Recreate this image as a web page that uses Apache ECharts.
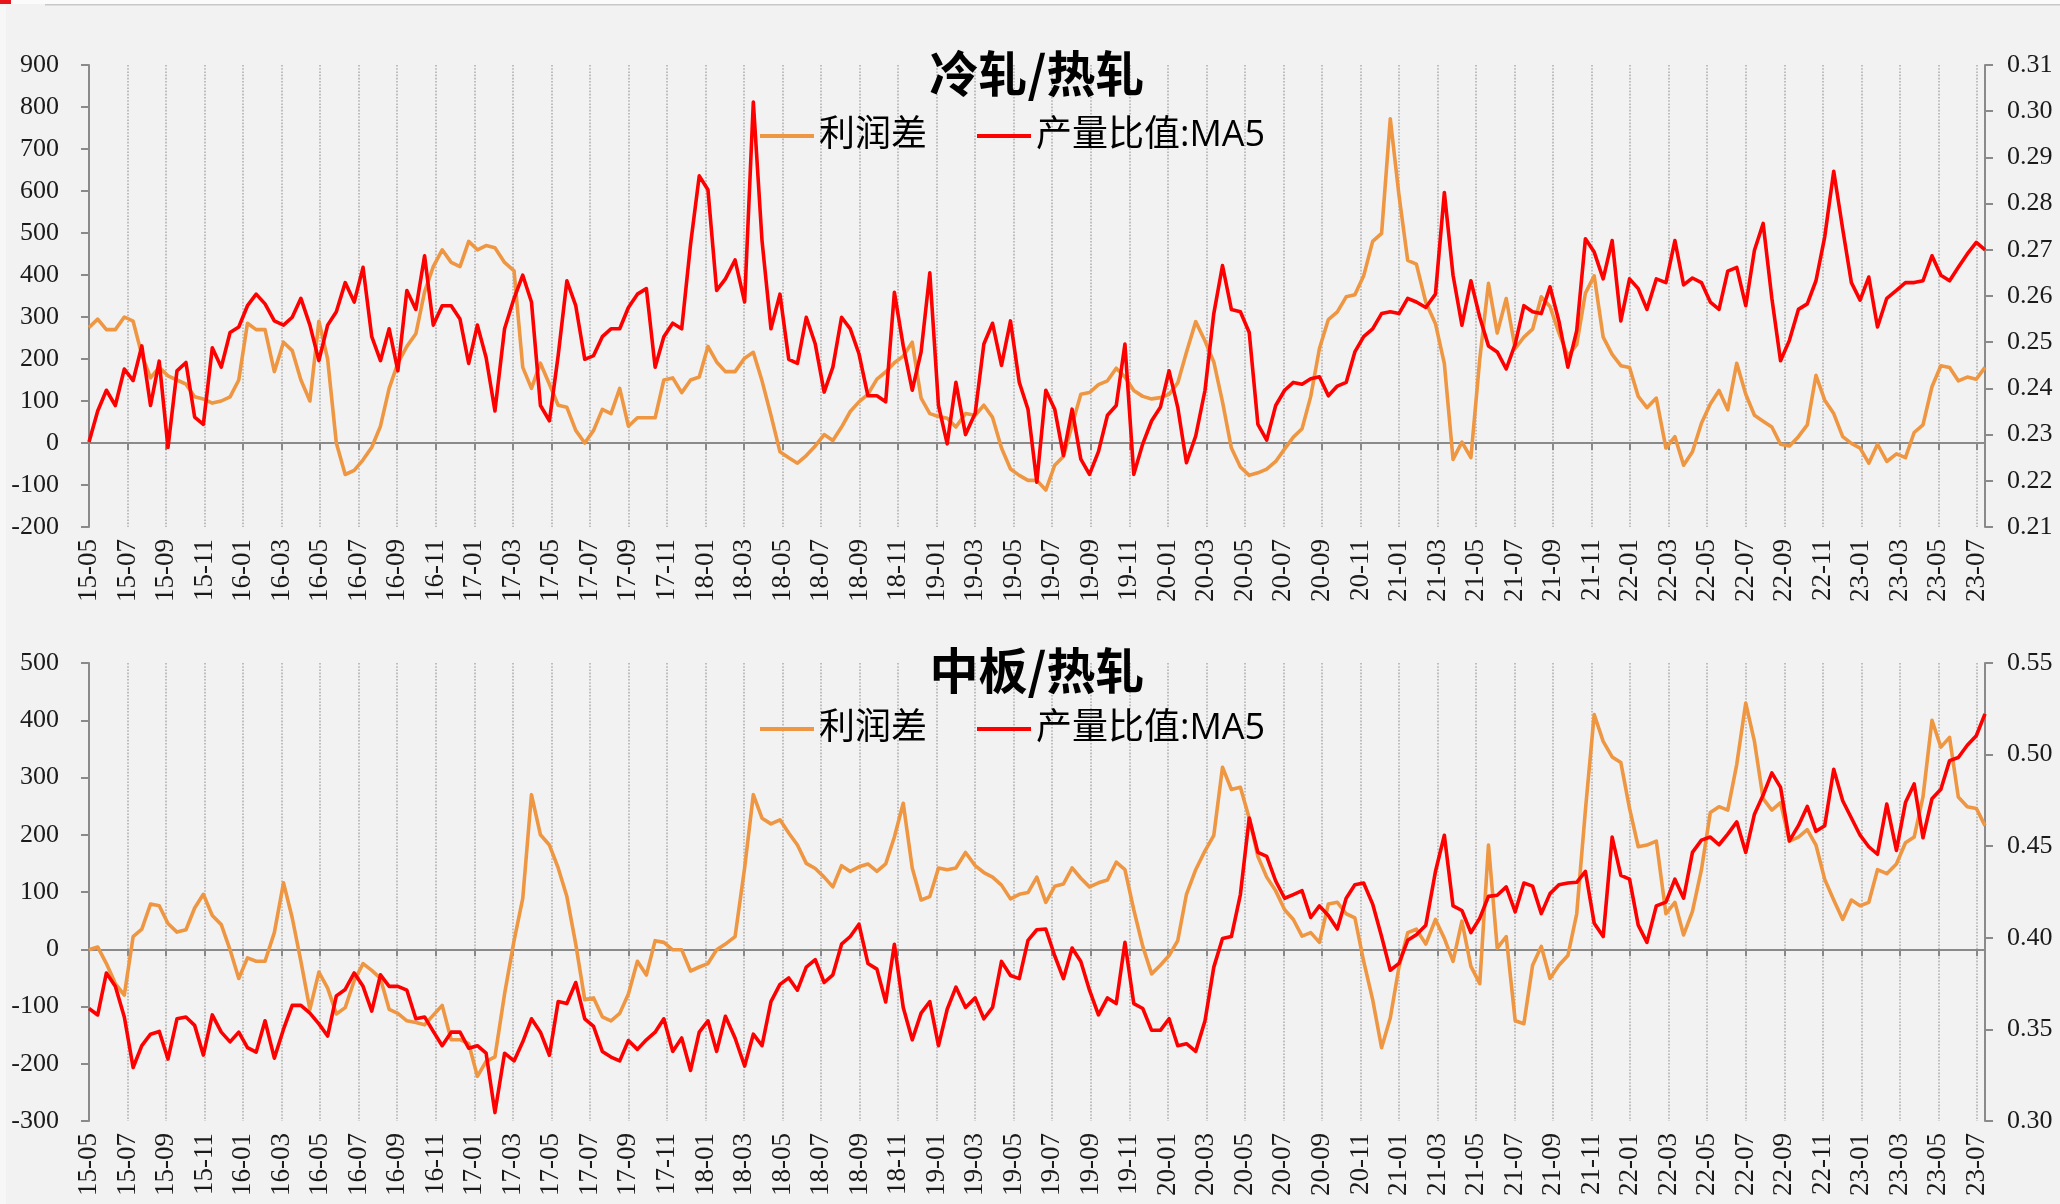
<!DOCTYPE html>
<html>
<head>
<meta charset="utf-8">
<script src="https://cdn.jsdelivr.net/npm/echarts@6/dist/echarts.min.js"></script>
<style>
  html, body { margin: 0; padding: 0; background: #f2f2f2; }
  #chart { width: 2060px; height: 1204px; }
</style>
</head>
<body>
<div id="chart"></div>
<script>
// One observation every 14 days, starting 2015-05-01.
const startUTC = Date.UTC(2015, 4, 1);
const stepDays = 14;

// x-axis tick labels, one every two months
const monthTicks = ['15-05','15-07','15-09','15-11','16-01','16-03','16-05','16-07','16-09','16-11',
  '17-01','17-03','17-05','17-07','17-09','17-11','18-01','18-03','18-05','18-07',
  '18-09','18-11','19-01','19-03','19-05','19-07','19-09','19-11','20-01','20-03',
  '20-05','20-07','20-09','20-11','21-01','21-03','21-05','21-07','21-09','21-11',
  '22-01','22-03','22-05','22-07','22-09','22-11','23-01','23-03','23-05','23-07'];

const seriesNames = ['利润差', '产量比值:MA5'];
const panelTitles = ['冷轧/热轧', '中板/热轧'];

// 冷轧/热轧: profit spread (left axis)
const crProfit = [275,295,270,270,300,290,210,155,180,160,
  150,140,110,105,95,100,110,150,285,270,
  270,170,240,220,150,100,290,200,0,-75,
  -65,-40,-10,40,130,190,230,260,360,420,
  460,430,420,480,460,470,465,430,410,180,
  130,190,140,90,85,30,0,30,80,70,
  130,40,60,60,60,150,155,120,150,157,
  230,193,170,170,202,216,148,66,-21,-35,
  -48,-30,-7,20,6,38,75,98,116,152,
  169,191,207,240,107,70,63,59,38,70,
  66,90,61,-12,-62,-77,-89,-89,-112,-53,
  -32,43,116,120,139,148,178,157,125,111,
  105,108,116,143,216,289,243,193,98,-12,
  -57,-77,-71,-62,-44,-14,14,34,111,225,
  294,312,348,353,398,480,499,772,590,435,
  426,335,284,189,-39,2,-35,200,380,262,
  344,225,252,271,348,325,262,207,234,357,
  398,252,211,184,180,111,84,107,-12,15,
  -53,-21,47,93,125,79,190,116,66,52,
  38,-3,-7,15,43,161,102,70,15,-1,
  -12,-48,-3,-44,-26,-35,25,43,134,184,
  180,148,157,152,180];

// 冷轧/热轧: output ratio, 5-period average (right axis)
const crRatio = [0.2284,0.2351,0.2396,0.2363,0.2442,0.2417,0.2492,0.2363,0.2459,0.2272,
  0.2438,0.2456,0.2338,0.2322,0.2488,0.2446,0.2521,0.2533,0.2579,0.2604,
  0.2583,0.2546,0.2537,0.2554,0.2595,0.2537,0.2460,0.2537,0.2566,0.2629,
  0.2587,0.2662,0.2512,0.2460,0.2529,0.2438,0.2612,0.2571,0.2687,0.2537,
  0.2579,0.2579,0.2550,0.2454,0.2537,0.2467,0.2351,0.2529,0.2595,0.2645,
  0.2587,0.2363,0.2330,0.2471,0.2633,0.2579,0.2463,0.2471,0.2512,0.2529,
  0.2529,0.2575,0.2604,0.2616,0.2446,0.2512,0.2541,0.2529,0.2712,0.2860,
  0.2830,0.2612,0.2637,0.2678,0.2587,0.3020,0.2720,0.2529,0.2604,0.2463,
  0.2454,0.2554,0.2496,0.2392,0.2446,0.2554,0.2529,0.2475,0.2384,0.2384,
  0.2371,0.2608,0.2492,0.2396,0.2479,0.2650,0.2363,0.2280,0.2413,0.2300,
  0.2346,0.2496,0.2541,0.2450,0.2546,0.2413,0.2355,0.2197,0.2396,0.2355,
  0.2255,0.2355,0.2247,0.2214,0.2263,0.2342,0.2363,0.2496,0.2214,0.2280,
  0.2330,0.2359,0.2438,0.2359,0.2239,0.2297,0.2396,0.2562,0.2666,0.2571,
  0.2566,0.2521,0.2322,0.2288,0.2363,0.2396,0.2413,0.2409,0.2421,0.2425,
  0.2384,0.2405,0.2413,0.2479,0.2512,0.2529,0.2562,0.2566,0.2562,0.2595,
  0.2587,0.2575,0.2604,0.2824,0.2645,0.2537,0.2633,0.2554,0.2492,0.2479,
  0.2442,0.2496,0.2579,0.2566,0.2562,0.2620,0.2546,0.2446,0.2525,0.2724,
  0.2695,0.2637,0.2720,0.2546,0.2637,0.2616,0.2571,0.2637,0.2629,0.2720,
  0.2624,0.2639,0.2629,0.2587,0.2571,0.2654,0.2662,0.2579,0.2699,0.2757,
  0.2595,0.2460,0.2504,0.2571,0.2583,0.2633,0.2728,0.2870,0.2745,0.2629,
  0.2591,0.2641,0.2533,0.2595,0.2612,0.2629,0.2629,0.2633,0.2687,0.2645,
  0.2633,0.2662,0.2691,0.2716,0.2700];

// 中板/热轧: profit spread (left axis)
const mpProfit = [-1,4,-25,-60,-80,22,35,79,76,45,
  30,34,72,96,59,43,-1,-51,-15,-21,
  -21,29,116,55,-21,-105,-40,-68,-113,-102,
  -55,-25,-37,-51,-105,-112,-125,-128,-132,-115,
  -98,-158,-158,-165,-222,-196,-188,-78,15,89,
  270,200,182,142,92,9,-88,-85,-118,-125,
  -112,-78,-21,-45,15,12,-1,-1,-38,-31,
  -25,-1,9,22,142,270,229,219,226,203,
  182,150,141,126,109,146,136,144,149,136,
  149,196,255,142,86,92,142,139,142,169,
  146,134,126,112,88,96,99,126,82,110,
  114,142,124,109,116,121,152,139,69,5,
  -43,-28,-11,15,96,139,172,199,318,279,
  283,229,162,126,102,69,52,23,29,12,
  79,82,62,55,-21,-88,-172,-120,-31,29,
  35,9,52,19,-21,49,-30,-60,182,2,
  22,-125,-130,-28,5,-51,-28,-11,62,243,
  410,363,336,326,246,179,182,189,62,82,
  25,66,139,239,249,243,323,430,363,263,
  243,256,189,196,209,182,122,86,52,86,
  76,82,139,132,149,186,196,266,400,353,
  370,266,249,246,216];

// 中板/热轧: output ratio, 5-period average (right axis)
const mpRatio = [0.3614,0.3579,0.3808,0.3735,0.3568,0.3292,0.3411,0.3474,0.3489,0.3338,
  0.3558,0.3568,0.3522,0.3360,0.3579,0.3485,0.3432,0.3485,0.3401,0.3376,
  0.3547,0.3343,0.3501,0.3631,0.3631,0.3589,0.3530,0.3464,0.3683,0.3718,
  0.3808,0.3735,0.3600,0.3798,0.3735,0.3735,0.3714,0.3558,0.3568,0.3489,
  0.3411,0.3485,0.3485,0.3397,0.3411,0.3370,0.3046,0.3370,0.3328,0.3432,
  0.3558,0.3485,0.3359,0.3652,0.3641,0.3756,0.3558,0.3516,0.3380,0.3349,
  0.3328,0.3439,0.3391,0.3443,0.3485,0.3558,0.3380,0.3453,0.3276,0.3485,
  0.3547,0.3380,0.3572,0.3453,0.3300,0.3474,0.3411,0.3652,0.3746,0.3781,
  0.3714,0.3840,0.3881,0.3756,0.3798,0.3965,0.4007,0.4074,0.3860,0.3829,
  0.3650,0.3965,0.3620,0.3443,0.3589,0.3652,0.3411,0.3610,0.3731,0.3620,
  0.3672,0.3558,0.3620,0.3871,0.3794,0.3777,0.3986,0.4044,0.4048,0.3902,
  0.3777,0.3944,0.3871,0.3714,0.3579,0.3672,0.3641,0.3975,0.3641,0.3614,
  0.3495,0.3495,0.3558,0.3411,0.3422,0.3380,0.3547,0.3840,0.3996,0.4007,
  0.4236,0.4654,0.4466,0.4445,0.4310,0.4216,0.4236,0.4257,0.4111,0.4174,
  0.4122,0.4048,0.4216,0.4289,0.4299,0.4184,0.4007,0.3823,0.3860,0.3986,
  0.4017,0.4069,0.4362,0.4560,0.4174,0.4149,0.4028,0.4107,0.4226,0.4232,
  0.4278,0.4142,0.4299,0.4282,0.4132,0.4241,0.4289,0.4299,0.4303,0.4362,
  0.4080,0.4007,0.4550,0.4341,0.4320,0.4069,0.3975,0.4174,0.4195,0.4320,
  0.4216,0.4466,0.4533,0.4550,0.4508,0.4566,0.4633,0.4466,0.4675,0.4779,
  0.4900,0.4821,0.4529,0.4612,0.4717,0.4581,0.4612,0.4920,0.4748,0.4654,
  0.4560,0.4497,0.4456,0.4730,0.4477,0.4738,0.4840,0.4546,0.4759,0.4811,
  0.4967,0.4984,0.5051,0.5103,0.5222];

// Axis ranges: [min, max, interval]
const crLeftRange = [-200, 900, 100];
const crRightRange = [0.21, 0.31, 0.01];
const mpLeftRange = [-300, 500, 100];
const mpRightRange = [0.30, 0.55, 0.05];

// ---- helpers ----
const DAY = 86400000;
// fractional month position, 0 = 2015-05-01
function monthPos(t) {
  const d = new Date(t);
  const y = d.getUTCFullYear(), m = d.getUTCMonth();
  const dim = new Date(Date.UTC(y, m + 1, 0)).getUTCDate();
  return (y - 2015) * 12 + (m - 4) + (d.getUTCDate() - 1) / dim;
}
const xPos = crProfit.map((_, i) => monthPos(startUTC + i * stepDays * DAY));
const xMax = xPos[xPos.length - 1];
const pairs = arr => arr.map((v, i) => [xPos[i], v]);

function tickLabel(v) {
  const r = Math.round(v);
  if (Math.abs(v - r) > 1e-6 || r % 2 !== 0) return '';
  return monthTicks[r / 2] || '';
}

const ORANGE = '#EE9642';
const RED = '#FF0000';
const AXIS_GREY = '#8a8a8a';
const serif = 'Liberation Serif';
const cjk = 'Noto Sans CJK SC';

const grids = [
  { left: 89, right: 75, top: 65, height: 462, outerBoundsMode: 'none' },
  { left: 89, right: 75, top: 663, height: 458, outerBoundsMode: 'none' }
];

function labelXAxis(g) {
  return {
    type: 'value', gridIndex: g, min: 0, max: xMax, interval: 2, position: 'bottom',
    axisLine: { show: false, onZero: false },
    axisTick: { show: false },
    axisLabel: {
      rotate: 90, margin: 12, formatter: tickLabel,
      fontFamily: serif, fontSize: 27, color: '#1a1a1a',
      showMinLabel: true, showMaxLabel: true
    },
    splitLine: { show: true, lineStyle: { color: '#b4b4b4', width: 1.7, type: [1.6, 1.6] } }
  };
}
function zeroXAxis(g) {
  return {
    type: 'value', gridIndex: g, min: 0, max: xMax, interval: 2, position: 'bottom',
    axisLine: { show: true, onZero: true, lineStyle: { color: AXIS_GREY, width: 2 } },
    axisTick: { show: true, inside: false, length: 7, lineStyle: { color: AXIS_GREY, width: 2 } },
    axisLabel: { show: false },
    splitLine: { show: false }
  };
}
function yAxisOf(g, pos, range, fmt, margin) {
  return {
    type: 'value', gridIndex: g, position: pos,
    min: range[0], max: range[1], interval: range[2],
    axisLine: { show: true, onZero: false, lineStyle: { color: AXIS_GREY, width: 2 } },
    axisTick: { show: true, inside: false, length: 8, lineStyle: { color: AXIS_GREY, width: 2 } },
    axisLabel: { margin: margin, fontFamily: serif, fontSize: 26, color: '#1a1a1a', formatter: fmt },
    splitLine: { show: false }
  };
}
const fixed2 = v => v.toFixed(2);
const plain = v => String(v);

const titleStyle = { fontSize: 49, fontWeight: 'bold', fontFamily: cjk, color: '#000' };
const legendBase = {
  data: seriesNames, icon: 'rect', itemWidth: 54, itemHeight: 4, itemGap: 50, padding: 0,
  textStyle: { fontSize: 36, fontFamily: "'Open Sans', 'Noto Sans CJK SC'", color: '#000' }
};

function lineSeries(name, data, xi, yi, color) {
  return {
    name: name, type: 'line', data: data, xAxisIndex: xi, yAxisIndex: yi,
    showSymbol: false, symbol: 'none', smooth: false,
    lineStyle: { color: color, width: 3.6, join: 'round' },
    itemStyle: { color: color }
  };
}

const option = {
  backgroundColor: '#f2f2f2',
  animation: false,
  title: [
    { text: panelTitles[0], left: 1037, top: 49, textAlign: 'center', padding: 0, textStyle: titleStyle },
    { text: panelTitles[1], left: 1037, top: 646, textAlign: 'center', padding: 0, textStyle: titleStyle }
  ],
  legend: [
    Object.assign({ left: 760, top: 118 }, legendBase),
    Object.assign({ left: 760, top: 711 }, legendBase)
  ],
  grid: grids,
  xAxis: [labelXAxis(0), zeroXAxis(0), labelXAxis(1), zeroXAxis(1)],
  yAxis: [
    yAxisOf(0, 'left', crLeftRange, plain, 30),
    yAxisOf(0, 'right', crRightRange, fixed2, 22),
    yAxisOf(1, 'left', mpLeftRange, plain, 30),
    yAxisOf(1, 'right', mpRightRange, fixed2, 22)
  ],
  series: [
    lineSeries(seriesNames[0], pairs(crProfit), 0, 0, ORANGE),
    lineSeries(seriesNames[1], pairs(crRatio), 0, 1, RED),
    lineSeries(seriesNames[0], pairs(mpProfit), 2, 2, ORANGE),
    lineSeries(seriesNames[1], pairs(mpRatio), 2, 3, RED)
  ],
  graphic: [
    { type: 'rect', silent: true, z: -10, shape: { x: 0, y: 0, width: 2060, height: 4 }, style: { fill: '#fbfbfb' } },
    { type: 'rect', silent: true, z: -10, shape: { x: 45, y: 4, width: 2015, height: 1.5 }, style: { fill: '#c8c8c8' } },
    { type: 'rect', silent: true, z: -10, shape: { x: 0, y: 0, width: 11, height: 4 }, style: { fill: '#e8141c' } },
    { type: 'rect', silent: true, z: -10, shape: { x: 0, y: 6, width: 6, height: 1198 }, style: { fill: '#f7f7f7' } }
  ]
};

const chart = echarts.init(document.getElementById('chart'), null, { renderer: 'canvas' });
chart.setOption(option);
</script>
</body>
</html>
